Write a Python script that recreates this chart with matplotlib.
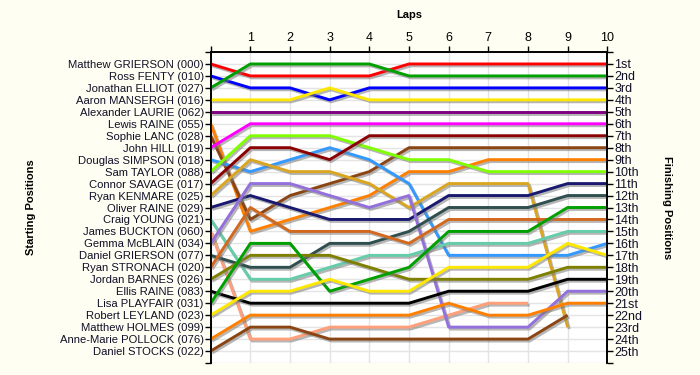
import matplotlib
matplotlib.use('Agg')
import matplotlib.pyplot as plt
import matplotlib.patheffects as pe
import numpy as np

plt.rcParams['font.family'] = ['Liberation Sans', 'DejaVu Sans']

laps = list(range(11))

drivers = [
    "Matthew GRIERSON (000)", "Ross FENTY (010)", "Jonathan ELLIOT (027)",
    "Aaron MANSERGH (016)", "Alexander LAURIE (062)", "Lewis RAINE (055)",
    "Sophie LANC (028)", "John HILL (019)", "Douglas SIMPSON (018)",
    "Sam TAYLOR (088)", "Connor SAVAGE (017)", "Ryan KENMARE (025)",
    "Oliver RAINE (029)", "Craig YOUNG (021)", "James BUCKTON (060)",
    "Gemma McBLAIN (034)", "Daniel GRIERSON (077)", "Ryan STRONACH (020)",
    "Jordan BARNES (026)", "Ellis RAINE (083)", "Lisa PLAYFAIR (031)",
    "Robert LEYLAND (023)", "Matthew HOLMES (099)", "Anne-Marie POLLOCK (076)",
    "Daniel STOCKS (022)",
]

N = None
p_m_grierson = [1, 2, 2, 2, 2, 1, 1, 1, 1, 1, 1]
p_fenty      = [2, 3, 3, 4, 3, 3, 3, 3, 3, 3, 3]
p_elliot     = [3, 1, 1, 1, 1, 2, 2, 2, 2, 2, 2]
p_mansergh   = [4, 4, 4, 3, 4, 4, 4, 4, 4, 4, 4]
p_laurie     = [5, 5, 5, 5, 5, 5, 5, 5, 5, 5, 5]
p_l_raine    = [6, 15, 14, 13, 12, 10, 10, 9, 9, 9, 9]
p_lanc       = [7, 14, 12, 11, 10, 8, 8, 8, 8, 8, 8]
p_hill       = [8, 6, 6, 6, 6, 6, 6, 6, 6, 6, 6]
p_simpson    = [9, 10, 9, 8, 9, 11, 17, 17, 17, 17, 16]
p_taylor     = [10, 7, 7, 7, 8, 9, 9, 10, 10, 10, 10]
p_savage     = [11, 8, 8, 9, 7, 7, 7, 7, 7, 7, 7]
p_kenmare    = [12, 9, 10, 10, 11, 13, 11, 11, 11, 23, N]
p_o_raine    = [13, 12, 13, 14, 14, 14, 12, 12, 12, 11, 11]
p_young      = [14, 19, 19, 18, 17, 17, 16, 16, 16, 15, 15]
p_buckton    = [15, 24, 24, 23, 23, 23, 22, 21, 21, N, N]
p_mcblain    = [16, 11, 11, 12, 13, 12, 23, 23, 23, 20, 20]
p_d_grierson = [17, 18, 18, 16, 16, 15, 13, 13, 13, 12, 12]
p_stronach   = [18, 13, 15, 15, 15, 16, 14, 14, 14, 14, 14]
p_barnes     = [19, 17, 17, 17, 18, 19, 19, 19, 19, 18, 18]
p_e_raine    = [20, 21, 21, 21, 21, 21, 20, 20, 20, 19, 19]
p_playfair   = [21, 16, 16, 20, 19, 18, 15, 15, 15, 13, 13]
p_leyland    = [22, 20, 20, 19, 20, 20, 18, 18, 18, 16, 17]
p_holmes     = [N, N, N, N, N, N, N, N, N, N, N]
p_pollock    = [24, 22, 22, 22, 22, 22, 21, 22, 22, 21, 21]
p_stocks     = [25, 23, 23, 24, 24, 24, 24, 24, 24, 22, N]

series = [p_m_grierson, p_fenty, p_elliot, p_mansergh, p_laurie, p_l_raine,
          p_lanc, p_hill, p_simpson, p_taylor, p_savage, p_kenmare, p_o_raine,
          p_young, p_buckton, p_mcblain, p_d_grierson, p_stronach, p_barnes,
          p_e_raine, p_playfair, p_leyland, p_holmes, p_pollock, p_stocks]

finish_labels = ["1st", "2nd", "3rd"] + [f"{i}th" for i in range(4, 21)] + \
                ["21st", "22nd", "23rd", "24th", "25th"]

colors = ["#FF0000", "#0000FF", "#00A000", "#FFE800", "#800080", "#FF8000",
          "#8B4513", "#FF00FF", "#3399FF", "#80FF00", "#8B0000", "#DAA520",
          "#191970", "#66CDAA", "#FFA07A", "#9370DB", "#2F4F4F", "#D2691E",
          "#808000", "#000000", "#00A000", "#FFE800", "#999999", "#FF8000",
          "#8B4513"]

fig = plt.figure(figsize=(7, 3.75), dpi=100, facecolor="#FFFEF2")
ax = fig.add_axes([0.301, 0.032, 0.5666, 0.8293])
ax.set_facecolor("white")

shadow = [pe.SimpleLineShadow(offset=(1.2, -1.4), shadow_color="#7a7a7a", alpha=0.55),
          pe.Normal()]
for vals, col in zip(series, colors):
    y = np.array([np.nan if v is None else v for v in vals], dtype=float)
    ax.plot(laps, y, color=col, lw=2.1, solid_capstyle="butt",
            path_effects=shadow, zorder=3)

ax.set_xlim(0, 10)
ax.set_ylim(26, 0)

ax.xaxis.tick_top()
ax.xaxis.set_label_position("top")
ax.set_xticks(laps)
ax.set_xticklabels([""] + [str(l) for l in laps[1:]], fontsize=9)
ax.set_xlabel("Laps", fontsize=8, fontweight="bold")
ax.xaxis.set_label_coords(0.5, 1.109)

yt = list(range(0, 27))
ax.set_yticks(yt)
ax.set_yticklabels([""] + drivers + [""], fontsize=8.1, color="#101028")
ax.set_ylabel("Starting Positions", fontsize=8, fontweight="bold")
ax.yaxis.set_label_coords(-0.44, 0.5)

ax2 = ax.twinx()
ax2.set_ylim(26, 0)
ax2.set_yticks(yt)
ax2.set_yticklabels([""] + finish_labels + [""], fontsize=9, color="#101028")
ax2.set_ylabel("Finishing Positions", fontsize=8, fontweight="bold",
               rotation=270, va="center")
ax2.yaxis.set_label_coords(1.151, 0.5)

for a in (ax, ax2):
    a.tick_params(axis="both", length=4, width=1, pad=1, color="black")
    a.spines["bottom"].set_visible(False)
    for s in ("left", "right", "top"):
        a.spines[s].set_color("black")
        a.spines[s].set_linewidth(1.2)
ax.tick_params(axis="x", pad=2)

ax.grid(True, color="#E4E4E4", lw=1, zorder=0)
ax.set_axisbelow(True)

fig.savefig("out.png", dpi=100, facecolor=fig.get_facecolor())
